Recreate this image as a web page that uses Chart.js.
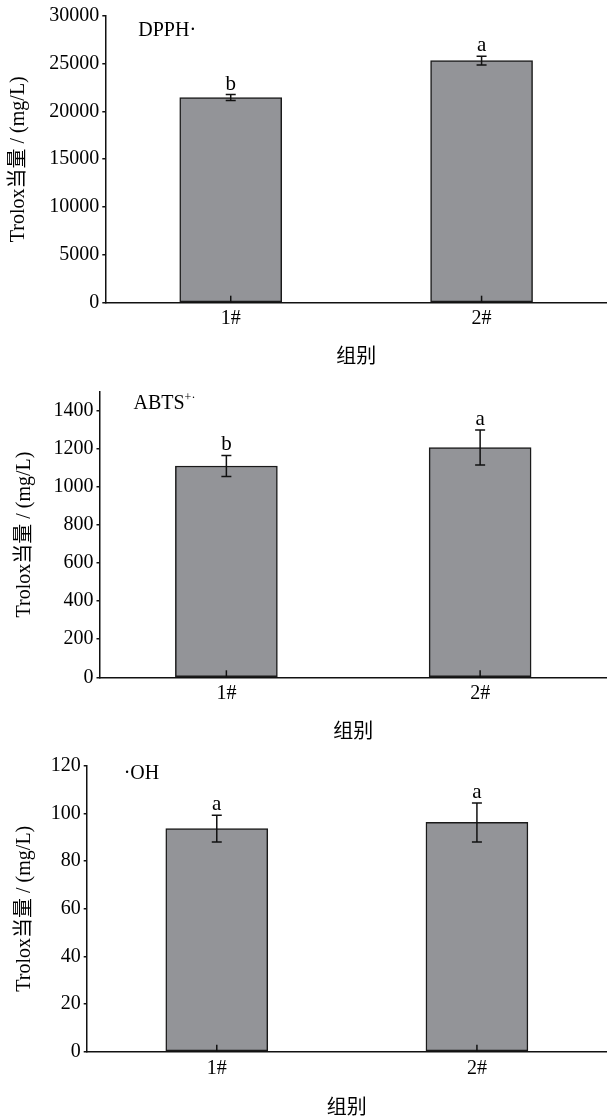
<!DOCTYPE html>
<html><head><meta charset="utf-8">
<script src="https://cdn.jsdelivr.net/npm/chart.js@4/dist/chart.umd.min.js"></script>
<style>
html,body{margin:0;padding:0;background:#fff;overflow:hidden;width:607px;height:1117px}
canvas.c{position:absolute;left:0}
</style></head><body>
<canvas id="c1" class="c" style="top:0px" width="607" height="375"></canvas>
<canvas id="c2" class="c" style="top:375px" width="607" height="375"></canvas>
<canvas id="c3" class="c" style="top:750px" width="607" height="375"></canvas>
<script>
const categories = ['1#', '2#'];
const xTitle = '组别';
const yTitle = 'Trolox当量 / (mg/L)';

const dpphValues = [21450, 25300];
const dpphErrors = [310, 450];
const dpphLetters = ['b', 'a'];
const dpphTicks = [0, 5000, 10000, 15000, 20000, 25000, 30000];

const abtsValues = [1110, 1207];
const abtsErrors = [55, 92];
const abtsLetters = ['b', 'a'];
const abtsTicks = [0, 200, 400, 600, 800, 1000, 1200, 1400];

const ohValues = [93.6, 96.2];
const ohErrors = [5.6, 8.2];
const ohLetters = ['a', 'a'];
const ohTicks = [0, 20, 40, 60, 80, 100, 120];

const FONT = '"Liberation Serif", "Noto Sans CJK SC", serif';
Chart.defaults.font.family = FONT;
Chart.defaults.font.size = 20;
Chart.defaults.color = '#000';

const annotPlugin = {
  id: 'annot',
  afterDatasetsDraw(chart, args, opts) {
    const ctx = chart.ctx;
    const xs = chart.scales.x, ys = chart.scales.y;
    const ds = chart.data.datasets[0];
    const meta = chart.getDatasetMeta(0);
    ctx.save();
    ctx.strokeStyle = '#111';
    ctx.lineWidth = 1.5;
    // inward x tick marks
    xs.ticks.forEach((t, i) => {
      const px = xs.getPixelForTick(i);
      ctx.beginPath();
      ctx.moveTo(px, ys.bottom);
      ctx.lineTo(px, ys.bottom - 7);
      ctx.stroke();
    });
    // error bars + letters
    ctx.fillStyle = '#000';
    ctx.textAlign = 'center';
    ctx.textBaseline = 'alphabetic';
    ctx.font = '21px ' + FONT;
    ds.data.forEach((v, i) => {
      const px = meta.data[i].x;
      const e = ds.errors[i];
      const top = ys.getPixelForValue(v + e);
      const bot = ys.getPixelForValue(v - e);
      const hw = 5;
      ctx.beginPath();
      ctx.moveTo(px, top); ctx.lineTo(px, bot);
      ctx.moveTo(px - hw, top); ctx.lineTo(px + hw, top);
      ctx.moveTo(px - hw, bot); ctx.lineTo(px + hw, bot);
      ctx.stroke();
      ctx.fillText(ds.letters[i], px, top - 5);
    });
    // panel label
    ctx.textAlign = 'left';
    let lx = chart.chartArea.left + opts.dx;
    const ly = chart.chartArea.top + opts.dy;
    opts.parts.forEach(p => {
      ctx.font = p.size + 'px ' + FONT;
      ctx.fillText(p.text, lx, ly - (p.rise || 0));
      lx += ctx.measureText(p.text).width;
    });
    ctx.restore();
  }
};

function makeChart(id, values, errors, letters, ticks, yMax, o) {
  return new Chart(document.getElementById(id), {
    type: 'bar',
    data: {
      labels: categories,
      datasets: [{
        data: values, errors: errors, letters: letters,
        backgroundColor: '#939498', borderColor: '#1a1a1a', borderWidth: 1.5,
        borderSkipped: false, barThickness: 102
      }]
    },
    options: {
      responsive: false, animation: false, devicePixelRatio: 1,
      layout: { padding: { top: o.top, left: 0, right: 0, bottom: 0 } },
      plugins: {
        legend: { display: false }, tooltip: { enabled: false },
        annot: { dx: o.lx, dy: o.ly, parts: o.parts }
      },
      scales: {
        x: {
          grid: { display: true, drawOnChartArea: false, drawTicks: false },
          border: { display: true, color: '#111', width: 1.5 },
          ticks: { padding: o.xPad, color: '#000', font: { size: 20 } },
          title: { display: true, text: xTitle, color: '#000', font: { size: 20 }, padding: { top: 0, bottom: o.xtb } },
          afterFit(s) { s.height = o.xh; }
        },
        y: {
          min: 0, max: yMax,
          afterBuildTicks(s) { s.ticks = ticks.map(v => ({ value: v })); },
          grid: { display: true, drawOnChartArea: false, drawTicks: true, tickLength: 3, color: '#111', lineWidth: 1.5 },
          border: { display: true, color: '#111', width: 1.5 },
          ticks: { padding: 3, color: '#000', font: { size: 20 }, callback: v => String(v) },
          title: { display: true, text: yTitle, color: '#000', font: { size: 20 }, padding: { top: o.ytp, bottom: 0 } },
          afterFit(s) { s.width = o.yw; }
        }
      }
    },
    plugins: [annotPlugin]
  });
}

makeChart('c1', dpphValues, dpphErrors, dpphLetters, dpphTicks, 30000,
  { top: 15.7, yw: 105.3, xh: 72.3, xPad: 4, xtb: 5, ytp: 6.6, lx: 33, ly: 20,
    parts: [{ text: 'DPPH·', size: 20 }] });
makeChart('c2', abtsValues, abtsErrors, abtsLetters, abtsTicks, 1500,
  { top: 16.7, yw: 99.5, xh: 72.7, xPad: 4, xtb: 5, ytp: 13, lx: 34, ly: 17.6,
    parts: [{ text: 'ABTS', size: 20 }, { text: '+·', size: 12, rise: 8 }] });
makeChart('c3', ohValues, ohErrors, ohLetters, ohTicks, 120,
  { top: 15.7, yw: 86.7, xh: 73.3, xPad: 5, xtb: 4, ytp: 12.4, lx: 37, ly: 13,
    parts: [{ text: '·OH', size: 20 }] });
</script>
</body></html>
